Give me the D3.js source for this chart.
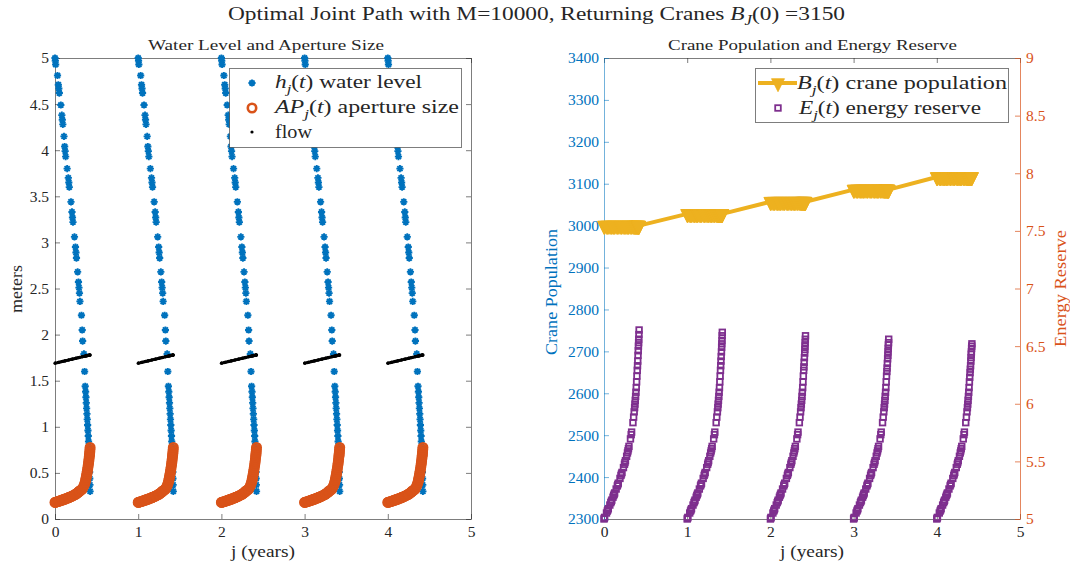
<!DOCTYPE html>
<html>
<head>
<meta charset="utf-8">
<script src="https://cdn.jsdelivr.net/npm/d3@7"></script>
<style>
  html, body { margin: 0; padding: 0; background: #fff; }
  svg { display: block; font-family: "Liberation Serif", "Times New Roman", serif; }
</style>
</head>
<body>
<svg id="chart" width="1070" height="567"></svg>
<script>
// ---- data ----------------------------------------------------------------
const years = [0, 1, 2, 3, 4];

// time offsets (fraction of a year) at which each season is sampled
const seasonT = [0.000,0.004,0.008,0.030,0.040,0.046,0.052,0.070,0.082,0.088,
                 0.094,0.108,0.116,0.122,0.128,0.146,0.160,0.166,0.172,0.192,
                 0.204,0.210,0.216,0.234,0.246,0.252,0.258,0.272,0.282,0.288,
                 0.294,0.300,0.318,0.327,0.332,0.348,0.356,0.363,0.368,0.372,
                 0.376,0.380,0.384,0.388,0.392,0.396,0.400,0.403,0.406,0.409,
                 0.412,0.414,0.416,0.418,0.420,0.422];

// h_j(t), meters
const waterLevel = [5.00,4.97,4.93,4.81,4.71,4.67,4.62,4.49,4.38,4.33,
                    4.28,4.15,4.04,3.99,3.93,3.80,3.70,3.65,3.60,3.44,
                    3.33,3.27,3.22,3.06,2.95,2.89,2.83,2.68,2.57,2.51,
                    2.45,2.36,2.21,2.05,1.93,1.79,1.60,1.44,1.38,1.32,
                    1.26,1.20,1.14,1.08,1.02,0.96,0.90,0.84,0.78,0.72,
                    0.65,0.58,0.51,0.44,0.37,0.30];

// AP_j(t), meters
const apertureSize = [0.180,0.181,0.182,0.188,0.191,0.193,0.195,0.200,0.204,0.206,
                      0.208,0.212,0.215,0.217,0.219,0.225,0.230,0.232,0.235,0.242,
                      0.247,0.250,0.253,0.261,0.267,0.271,0.275,0.284,0.291,0.296,
                      0.301,0.307,0.315,0.325,0.333,0.360,0.378,0.398,0.418,0.436,
                      0.454,0.474,0.494,0.516,0.538,0.561,0.585,0.605,0.627,0.650,
                      0.674,0.691,0.709,0.728,0.752,0.776];

// flow
const flowRate = [1.690,1.691,1.692,1.696,1.699,1.700,1.701,1.705,1.707,1.709,
                  1.710,1.713,1.715,1.716,1.717,1.721,1.724,1.725,1.727,1.731,
                  1.733,1.735,1.736,1.740,1.742,1.744,1.745,1.748,1.750,1.751,
                  1.753,1.754,1.758,1.760,1.761,1.764,1.766,1.767,1.768,1.769,
                  1.770,1.771,1.772,1.773,1.773,1.774,1.775,1.776,1.776,1.777,
                  1.778,1.778,1.779,1.779,1.779,1.780];

// E_j(t), one row per year
const energyYear0 = [5.000,5.007,5.014,5.052,5.069,5.079,5.090,5.121,5.142,5.153,
                     5.164,5.189,5.204,5.215,5.226,5.260,5.287,5.299,5.311,5.352,
                     5.378,5.391,5.404,5.446,5.475,5.490,5.506,5.544,5.573,5.591,
                     5.610,5.630,5.695,5.732,5.754,5.836,5.884,5.930,5.966,5.997,
                     6.030,6.064,6.100,6.140,6.190,6.240,6.290,6.330,6.370,6.420,
                     6.460,6.500,6.530,6.560,6.600,6.640];
const energyYear1 = [5.000,5.007,5.014,5.052,5.069,5.079,5.090,5.121,5.142,5.153,
                     5.164,5.189,5.204,5.215,5.226,5.260,5.287,5.299,5.311,5.352,
                     5.378,5.391,5.404,5.446,5.475,5.490,5.506,5.544,5.573,5.591,
                     5.610,5.630,5.695,5.732,5.754,5.836,5.884,5.930,5.966,5.997,
                     6.030,6.064,6.100,6.140,6.190,6.240,6.290,6.330,6.370,6.410,
                     6.450,6.490,6.520,6.550,6.590,6.620];
const energyYear2 = [5.000,5.007,5.014,5.052,5.069,5.079,5.090,5.121,5.142,5.153,
                     5.164,5.189,5.204,5.215,5.226,5.260,5.287,5.299,5.311,5.352,
                     5.378,5.391,5.404,5.446,5.475,5.490,5.506,5.544,5.573,5.591,
                     5.610,5.630,5.695,5.732,5.754,5.836,5.884,5.930,5.966,5.997,
                     6.030,6.064,6.100,6.140,6.190,6.240,6.290,6.320,6.360,6.400,
                     6.440,6.470,6.500,6.530,6.560,6.590];
const energyYear3 = [5.000,5.007,5.014,5.052,5.069,5.079,5.090,5.121,5.142,5.153,
                     5.164,5.189,5.204,5.215,5.226,5.260,5.287,5.299,5.311,5.352,
                     5.378,5.391,5.404,5.446,5.475,5.490,5.506,5.544,5.573,5.591,
                     5.610,5.630,5.695,5.732,5.754,5.836,5.884,5.930,5.966,5.997,
                     6.030,6.064,6.100,6.140,6.190,6.240,6.280,6.310,6.350,6.390,
                     6.420,6.450,6.480,6.510,6.530,6.560];
const energyYear4 = [5.000,5.007,5.014,5.052,5.069,5.079,5.090,5.121,5.142,5.153,
                     5.164,5.189,5.204,5.215,5.226,5.260,5.287,5.299,5.311,5.352,
                     5.378,5.391,5.404,5.446,5.475,5.490,5.506,5.544,5.573,5.591,
                     5.610,5.630,5.695,5.732,5.754,5.836,5.884,5.930,5.966,5.997,
                     6.030,6.064,6.100,6.140,6.190,6.230,6.270,6.300,6.330,6.370,
                     6.400,6.430,6.450,6.480,6.500,6.520];
const energyReserve = [energyYear0, energyYear1, energyYear2, energyYear3, energyYear4];

// B_j, crane population held through each season
const cranePopulation = [3000, 3028, 3057, 3086, 3116];

// axis ticks
const yearTicks = [0, 1, 2, 3, 4, 5];
const meterTicks = [0, 0.5, 1, 1.5, 2, 2.5, 3, 3.5, 4, 4.5, 5];
const craneTicks = [2300, 2400, 2500, 2600, 2700, 2800, 2900, 3000, 3100, 3200, 3300, 3400];
const energyTicks = [5, 5.5, 6, 6.5, 7, 7.5, 8, 8.5, 9];

// ---- styles --------------------------------------------------------------
const C = {
  blue: "#0072BD", orange: "#D95319", yellow: "#EDB120", purple: "#7E2F8E",
  ink: "#262626"
};
const FONT_TICK = 15.5;

const svg = d3.select("#chart");
svg.append("rect").attr("width", 1070).attr("height", 567).attr("fill", "#fff");

// rich text: parts = [{t, i (italic), sub}]; width stretches the run to a set length
function rich(g, parts, size, width) {
  const txt = g.append("text").attr("font-size", size);
  let shifted = false;
  parts.forEach(p => {
    const ts = txt.append("tspan").text(p.t);
    if (p.i) ts.attr("font-style", "italic");
    if (p.sub) {
      ts.attr("font-size", size * 0.72).attr("dy", size * 0.28);
      shifted = true;
    } else if (shifted) {
      ts.attr("dy", -size * 0.28);
      shifted = false;
    }
  });
  if (width) txt.attr("textLength", width).attr("lengthAdjust", "spacingAndGlyphs");
  return txt;
}
function label(g, str, size, width) {
  return g.append("text").attr("font-size", size).text(str)
    .attr("textLength", width).attr("lengthAdjust", "spacingAndGlyphs");
}

// ---- scales --------------------------------------------------------------
const xL = d3.scaleLinear([0, 5], [55, 471]);
const yL = d3.scaleLinear([0, 5], [519, 58]);
const xR = d3.scaleLinear([0, 5], [604, 1020]);
const yB = d3.scaleLinear([2300, 3400], [519, 58]);
const yE = d3.scaleLinear([5, 9], [519, 58]);

function styleAxis(g, lineColor, textColor, opacity) {
  g.select(".domain").attr("stroke", lineColor).attr("stroke-opacity", opacity);
  g.selectAll(".tick line").attr("stroke", lineColor).attr("stroke-opacity", opacity);
  g.selectAll("text").attr("fill", textColor)
    .attr("font-family", "Liberation Serif, serif").attr("font-size", FONT_TICK);
}

function frameAxes(x, y) {
  const gb = svg.append("g").attr("transform", `translate(0,${y.range()[0]})`)
    .call(d3.axisBottom(x).tickValues(yearTicks).tickFormat(d3.format("d"))
      .tickSize(-5).tickSizeOuter(0).tickPadding(7));
  styleAxis(gb, C.ink, C.ink, 0.6);
  const gt = svg.append("g").attr("transform", `translate(0,${y.range()[1]})`)
    .call(d3.axisTop(x).tickValues(yearTicks).tickFormat("").tickSize(-5).tickSizeOuter(0));
  styleAxis(gt, C.ink, C.ink, 0.6);
}

// ---- titles --------------------------------------------------------------
rich(svg, [
  {t: "Optimal Joint Path with M=10000, Returning Cranes "},
  {t: "B", i: true}, {t: "J", i: true, sub: true}, {t: "(0) =3150"}
], 19, 617).attr("x", 228).attr("y", 20).attr("fill", C.ink);

label(svg, "Water Level and Aperture Size", 15.5, 236)
  .attr("x", 148).attr("y", 50).attr("fill", C.ink);
label(svg, "Crane Population and Energy Reserve", 15.5, 289)
  .attr("x", 668).attr("y", 50).attr("fill", C.ink);

// ---- left panel: axes ----------------------------------------------------
frameAxes(xL, yL);
{
  const gl = svg.append("g").attr("transform", "translate(55,0)")
    .call(d3.axisLeft(yL).tickValues(meterTicks).tickFormat(d3.format("")).tickSize(-5)
      .tickSizeOuter(0).tickPadding(6));
  styleAxis(gl, C.ink, C.ink, 0.6);
  const gr = svg.append("g").attr("transform", "translate(471,0)")
    .call(d3.axisRight(yL).tickValues(meterTicks).tickFormat("").tickSize(-5).tickSizeOuter(0));
  styleAxis(gr, C.ink, C.ink, 0.6);
}
label(svg, "meters", 17, 48).attr("transform", "translate(22,313) rotate(-90)").attr("fill", C.ink);
label(svg, "j (years)", 17, 64).attr("x", 231).attr("y", 557).attr("fill", C.ink);

// ---- left panel: series --------------------------------------------------
const seasonPoints = (vals, j) => seasonT.map((t, k) => ({x: j + t, v: vals[k]}));

const starPath = r => {
  const d = r * Math.SQRT1_2;
  return `M${-r},0L${r},0M0,${-r}L0,${r}M${-d},${-d}L${d},${d}M${-d},${d}L${d},${-d}`;
};

const gLeft = svg.append("g");
years.forEach(j => {
  gLeft.append("g").selectAll("path").data(seasonPoints(waterLevel, j)).join("path")
    .attr("transform", d => `translate(${xL(d.x)},${yL(d.v)})`)
    .attr("d", starPath(3.6)).attr("fill", "none")
    .attr("stroke", C.blue).attr("stroke-width", 1.9);
});
years.forEach(j => {
  gLeft.append("g").selectAll("circle").data(seasonPoints(apertureSize, j)).join("circle")
    .attr("cx", d => xL(d.x)).attr("cy", d => yL(d.v)).attr("r", 4.2)
    .attr("fill", "none").attr("stroke", C.orange).attr("stroke-width", 2.6);
});
years.forEach(j => {
  gLeft.append("g").selectAll("circle").data(seasonPoints(flowRate, j)).join("circle")
    .attr("cx", d => xL(d.x)).attr("cy", d => yL(d.v)).attr("r", 1.6)
    .attr("fill", "#000");
});

// ---- left legend ---------------------------------------------------------
{
  const lg = svg.append("g");
  lg.append("rect").attr("x", 229.5).attr("y", 68.5).attr("width", 232).attr("height", 79)
    .attr("fill", "#fff").attr("stroke", C.ink).attr("stroke-opacity", 0.6);
  lg.append("path").attr("transform", "translate(252,83)").attr("d", starPath(3.6))
    .attr("fill", "none").attr("stroke", C.blue).attr("stroke-width", 1.9);
  lg.append("circle").attr("cx", 252).attr("cy", 108).attr("r", 4.2)
    .attr("fill", "none").attr("stroke", C.orange).attr("stroke-width", 2.6);
  lg.append("circle").attr("cx", 252).attr("cy", 132).attr("r", 1.6).attr("fill", "#000");
  rich(lg, [{t: "h", i: true}, {t: "j", i: true, sub: true}, {t: "("}, {t: "t", i: true},
            {t: ") water level"}], 18, 147).attr("x", 275).attr("y", 88).attr("fill", C.ink);
  rich(lg, [{t: "AP", i: true}, {t: "j", i: true, sub: true}, {t: "("}, {t: "t", i: true},
            {t: ") aperture size"}], 18, 184).attr("x", 275).attr("y", 113).attr("fill", C.ink);
  label(lg, "flow", 18, 37).attr("x", 275).attr("y", 138).attr("fill", C.ink);
}

// ---- right panel: axes ---------------------------------------------------
frameAxes(xR, yB);
{
  const gl = svg.append("g").attr("transform", "translate(604,0)")
    .call(d3.axisLeft(yB).tickValues(craneTicks).tickFormat(d3.format("d")).tickSize(-5)
      .tickSizeOuter(0).tickPadding(5));
  styleAxis(gl, C.blue, C.blue, 0.55);
  const gr = svg.append("g").attr("transform", "translate(1020,0)")
    .call(d3.axisRight(yE).tickValues(energyTicks).tickFormat(d3.format("")).tickSize(-5)
      .tickSizeOuter(0).tickPadding(6));
  styleAxis(gr, C.orange, C.orange, 0.7);
}
label(svg, "Crane Population", 17, 126).attr("transform", "translate(557,355) rotate(-90)")
  .attr("fill", C.blue);
label(svg, "Energy Reserve", 17, 117).attr("transform", "translate(1066,347) rotate(-90)")
  .attr("fill", C.orange);
label(svg, "j (years)", 17, 64).attr("x", 780).attr("y", 557).attr("fill", C.ink);

// ---- right panel: series -------------------------------------------------
const trianglePath = "M-6.5,-4.3L6.5,-4.3L0,8.7Z";
const cranePoints = years.flatMap(j => seasonT.map(t => ({x: j + t, v: cranePopulation[j]})));

const gRight = svg.append("g");
gRight.append("path").datum(cranePoints)
  .attr("d", d3.line().x(d => xR(d.x)).y(d => yB(d.v)))
  .attr("fill", "none").attr("stroke", C.yellow).attr("stroke-width", 4)
  .attr("stroke-linejoin", "round");
gRight.append("g").selectAll("path").data(cranePoints).join("path")
  .attr("transform", d => `translate(${xR(d.x)},${yB(d.v)})`)
  .attr("d", trianglePath).attr("fill", C.yellow).attr("stroke", C.yellow).attr("stroke-width", 0.8);

years.forEach(j => {
  gRight.append("g").selectAll("rect").data(seasonPoints(energyReserve[j], j)).join("rect")
    .attr("x", d => xR(d.x) - 2.8).attr("y", d => yE(d.v) - 2.8)
    .attr("width", 5.6).attr("height", 5.6)
    .attr("fill", "none").attr("stroke", C.purple).attr("stroke-width", 1.8);
});

// ---- right legend --------------------------------------------------------
{
  const lg = svg.append("g");
  lg.append("rect").attr("x", 755.5).attr("y", 68.5).attr("width", 253).attr("height", 54)
    .attr("fill", "#fff").attr("stroke", C.ink).attr("stroke-opacity", 0.6);
  lg.append("line").attr("x1", 758).attr("x2", 797).attr("y1", 83).attr("y2", 83)
    .attr("stroke", C.yellow).attr("stroke-width", 4);
  lg.append("path").attr("transform", "translate(778,83)").attr("d", trianglePath)
    .attr("fill", C.yellow).attr("stroke", C.yellow).attr("stroke-width", 0.8);
  lg.append("rect").attr("x", 778 - 2.8).attr("y", 108 - 2.8).attr("width", 5.6).attr("height", 5.6)
    .attr("fill", "none").attr("stroke", C.purple).attr("stroke-width", 1.8);
  rich(lg, [{t: "B", i: true}, {t: "j", i: true, sub: true}, {t: "("}, {t: "t", i: true},
            {t: ") crane population"}], 18, 210).attr("x", 797).attr("y", 89).attr("fill", C.ink);
  rich(lg, [{t: "E", i: true}, {t: "j", i: true, sub: true}, {t: "("}, {t: "t", i: true},
            {t: ") energy reserve"}], 18, 182).attr("x", 799).attr("y", 114).attr("fill", C.ink);
}
</script>
</body>
</html>
